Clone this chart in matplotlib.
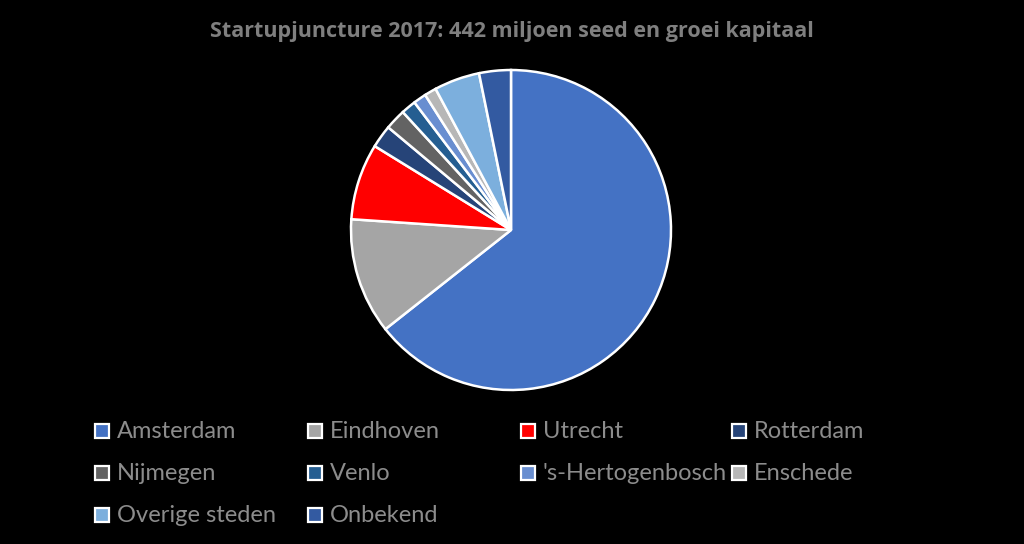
import matplotlib
matplotlib.use("Agg")
import matplotlib.pyplot as plt
from matplotlib.patches import Rectangle

# share of seed + growth capital per city (percent)
cities = ["Amsterdam", "Eindhoven", "Utrecht", "Rotterdam", "Nijmegen",
          "Venlo", "'s-Hertogenbosch", "Enschede", "Overige steden", "Onbekend"]
shares = [64.3, 11.7, 7.7, 2.3, 2.1, 1.5, 1.3, 1.2, 4.6, 3.2]
colors = ["#4472C4", "#A5A5A5", "#FF0000", "#264478", "#636363",
          "#255E91", "#698ED0", "#B7B7B7", "#7CAFDD", "#335AA1"]
title = "Startupjuncture 2017: 442 miljoen seed en groei kapitaal"

plt.rcParams['font.family'] = ['Lato', 'DejaVu Sans']

fig = plt.figure(figsize=(10.24, 5.44), dpi=100, facecolor="black")

# pie: centre (511, 230) px, radius 160 px
r = 160
ax = fig.add_axes([(511 - r) / 1024, (544 - 230 - r) / 544, 2 * r / 1024, 2 * r / 544])
ax.set_facecolor("black")
ax.pie(shares, colors=colors, startangle=90, counterclock=False, radius=1,
       wedgeprops=dict(edgecolor="white", linewidth=1.8))
ax.set_xlim(-1.0, 1.0)
ax.set_ylim(-1.0, 1.0)
ax.set_aspect("equal")
ax.axis("off")

fig.text(512 / 1024, 1 - 31 / 544, title, ha="center", va="center",
         family=['Open Sans', 'DejaVu Sans'],
         color="#7F7F7F", fontsize=15.5, fontweight="bold")

# legend, 4 columns in rows, Excel style
col_x = [95, 308, 521, 732]
row_y = [431, 473, 515]
for i, (name, c) in enumerate(zip(cities, colors)):
    x = col_x[i % 4]
    y = row_y[i // 4]
    fig.patches.append(Rectangle((x / 1024, 1 - (y + 7) / 544), 14 / 1024, 14 / 544,
                                 transform=fig.transFigure, facecolor=c,
                                 edgecolor="white", linewidth=1.6))
    fig.text((x + 22) / 1024, 1 - (y + 1) / 544, name, ha="left", va="center",
             color="#8C8C8C", fontsize=17)

fig.savefig("out.png", dpi=100, facecolor="black")
